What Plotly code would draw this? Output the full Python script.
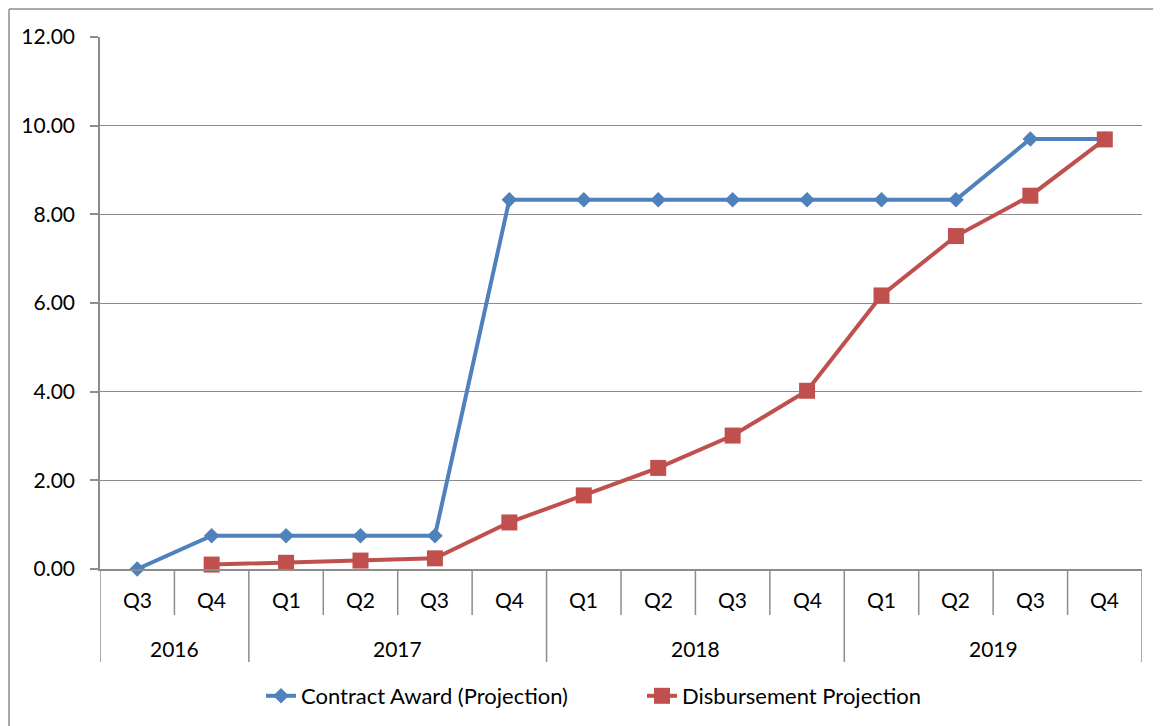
import plotly.graph_objects as go

years = ["2016", "2016", "2017", "2017", "2017", "2017",
         "2018", "2018", "2018", "2018", "2019", "2019", "2019", "2019"]
quarters = ["Q3", "Q4", "Q1", "Q2", "Q3", "Q4",
            "Q1", "Q2", "Q3", "Q4", "Q1", "Q2", "Q3", "Q4"]
contract_award = [0.0, 0.75, 0.75, 0.75, 0.75, 8.33, 8.33, 8.33, 8.33, 8.33, 8.33, 8.33, 9.70, 9.70]
disbursement = [None, 0.10, 0.14, 0.19, 0.24, 1.05, 1.66, 2.28, 3.01, 4.02, 6.17, 7.51, 8.42, 9.69]

FONT = "Lato"
FS = 21
GRID = "#8c8c8c"

# page body has an 8px offset; figure geometry compensates
OFF = 8
W, H = 1161 - OFF, 726 - OFF
L, R, T = 100 - OFF, 19, 37 - OFF
B = H - (569 - OFF)
PH = H - T - B
PW = W - L - R

def py(px_below):  # pixels below x axis -> paper y
    return -px_below / PH

def px(page_x):  # page x -> paper x
    return (page_x - OFF - L) / PW

idx = list(range(len(quarters)))

fig = go.Figure()
fig.add_trace(go.Scatter(
    x=idx, y=contract_award, name="Contract Award (Projection)",
    mode="lines+markers", legend="legend", cliponaxis=False,
    line=dict(color="#4F81BD", width=4),
    marker=dict(symbol="diamond", size=12, color="#4F81BD"),
))
fig.add_trace(go.Scatter(
    x=idx, y=disbursement, name="Disbursement Projection",
    mode="lines+markers", legend="legend2", cliponaxis=False,
    line=dict(color="#C0504D", width=4),
    marker=dict(symbol="square", size=16, color="#C0504D"),
))

shapes = []
annotations = []
groups = []
start = 0
for i in range(1, len(years) + 1):
    if i == len(years) or years[i] != years[start]:
        groups.append((years[start], start, i - 1))
        start = i
year_bounds = set()
for name, s, e in groups:
    year_bounds.add(s - 0.5)
    year_bounds.add(e + 0.5)
    annotations.append(dict(x=(s + e) / 2, y=py(79), xref="x", yref="paper",
                            text=name, showarrow=False, yanchor="middle",
                            font=dict(family=FONT, size=FS, color="black")))
for i in range(len(quarters) + 1):
    b = i - 0.5
    depth = 93 if b in year_bounds else 46
    shapes.append(dict(type="line", xref="x", yref="paper", x0=b, x1=b,
                       y0=0, y1=py(depth), line=dict(color=GRID, width=1.5)))
for i, q in enumerate(quarters):
    annotations.append(dict(x=i, y=py(30), xref="x", yref="paper",
                            text=q, showarrow=False, yanchor="middle",
                            font=dict(family=FONT, size=FS, color="black")))

# chart-area border (top and left edges visible)
bx = px(OFF + 1)
by = (H - B - (9 - OFF)) / PH
shapes.append(dict(type="line", xref="paper", yref="paper", x0=bx, x1=1.2, y0=by, y1=by,
                   line=dict(color=GRID, width=1.5)))
shapes.append(dict(type="line", xref="paper", yref="paper", x0=bx, x1=bx, y0=by, y1=-0.5,
                   line=dict(color=GRID, width=1.5)))

legend_common = dict(orientation="h", yanchor="middle", y=py(127),
                     font=dict(family=FONT, size=22), xanchor="left",
                     bgcolor="rgba(0,0,0,0)")

fig.update_layout(
    width=W, height=H,
    margin=dict(l=L, r=R, t=T, b=B, autoexpand=False),
    paper_bgcolor="white", plot_bgcolor="white",
    font=dict(family=FONT, size=FS, color="black"),
    showlegend=True,
    legend=dict(x=px(261), **legend_common),
    legend2=dict(x=px(642), **legend_common),
    shapes=shapes,
    annotations=annotations,
)
fig.update_xaxes(
    range=[-0.5, len(quarters) - 0.5],
    showticklabels=False, ticks="", showgrid=False, zeroline=False,
    showline=True, linecolor=GRID, linewidth=1.5,
)
fig.update_yaxes(
    range=[0, 12], dtick=2, tickformat=".2f",
    showgrid=True, gridcolor=GRID, gridwidth=1.2,
    showline=True, linecolor=GRID, linewidth=1.5,
    ticks="outside", ticklen=8, tickcolor=GRID, tickwidth=1.5,
    ticklabelstandoff=11,
    zeroline=False,
    tickfont=dict(family=FONT, size=FS),
)

fig.write_html("out.html")
